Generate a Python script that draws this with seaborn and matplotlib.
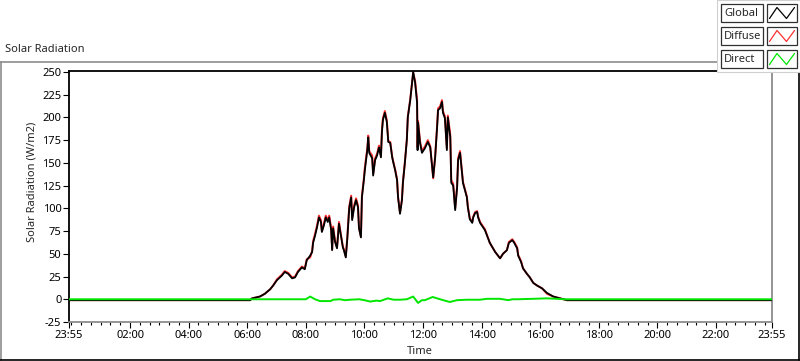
import matplotlib
matplotlib.use("Agg")
import matplotlib.pyplot as plt
from matplotlib.lines import Line2D
from matplotlib.patches import Rectangle
import seaborn as sns
import pandas as pd

# ---------------- data (minutes since midnight) ----------------
time_min = [-5, 366, 370, 386, 396, 407, 413, 421, 431, 437, 444, 452, 458, 464, 472, 478,
            482, 489, 493, 495, 499, 503, 507, 511, 513, 517, 521, 525, 528, 532, 534, 536,
            540, 544, 548, 552, 556, 558, 562, 565, 569, 573, 575, 579, 583, 587, 589, 593,
            595, 599, 601, 606, 608, 610, 616, 618, 622, 626, 630, 634, 636, 638, 642, 646,
            649, 653, 657, 659, 663, 667, 669, 673, 677, 679, 683, 687, 689, 694, 700, 704,
            708, 709, 710, 714, 718, 724, 730, 735, 739, 741, 745, 749, 751, 755, 759, 761,
            765, 769, 771, 776, 778, 782, 786, 790, 792, 796, 800, 802, 806, 810, 812, 816,
            821, 823, 827, 831, 833, 837, 847, 857, 868, 878, 884, 892, 896, 903, 907, 913,
            915, 921, 925, 933, 939, 946, 954, 964, 974, 987, 1001, 1015, 1435]

global_rad = [-1, -1, 1, 3, 6, 11, 15, 21, 26, 30, 28, 23, 24, 30, 35, 33,
              43, 48, 52, 62, 70, 79, 90, 85, 74, 81, 90, 85, 90, 76, 54, 78,
              63, 56, 83, 70, 57, 54, 46, 66, 100, 112, 87, 101, 109, 101, 78, 68,
              112, 131, 142, 164, 178, 161, 155, 136, 153, 158, 167, 156, 184, 197, 205, 195,
              173, 172, 156, 151, 142, 131, 112, 94, 109, 128, 150, 175, 200, 219, 250, 238,
              216, 164, 194, 172, 161, 166, 173, 167, 145, 134, 156, 189, 208, 210, 217, 205,
              199, 164, 200, 178, 128, 125, 98, 123, 153, 161, 139, 128, 120, 112, 101, 88,
              84, 90, 95, 96, 90, 84, 76, 62, 52, 45, 50, 54, 62, 65, 62, 56,
              48, 41, 34, 28, 24, 18, 15, 12, 7, 3, 1, -1, -1]

diffuse_rad = [-1, -1, 1, 3, 6, 11, 15, 22, 27, 31, 29, 24, 25, 31, 36, 34,
               44, 46, 53, 64, 72, 81, 92, 87, 75, 83, 92, 87, 92, 78, 55, 80,
               64, 57, 85, 71, 58, 55, 47, 68, 102, 114, 89, 103, 111, 103, 79, 69,
               114, 133, 145, 166, 180, 163, 158, 138, 155, 160, 169, 158, 186, 199, 207, 197,
               174, 173, 157, 152, 143, 132, 113, 95, 110, 129, 151, 176, 201, 220, 249, 240,
               219, 167, 196, 174, 163, 168, 175, 168, 144, 133, 157, 191, 210, 212, 219, 207,
               201, 166, 202, 181, 131, 127, 100, 125, 155, 163, 141, 129, 121, 113, 102, 89,
               85, 91, 96, 97, 91, 85, 77, 62, 52, 45, 50, 54, 63, 66, 63, 57,
               49, 42, 34, 28, 24, 18, 15, 12, 6, 3, 1, -1, -1]

direct_time = [-5, 366, 480, 489, 499, 509, 531, 536, 550, 560, 571, 590, 600, 612, 625, 632,
               648, 660, 673, 687, 700, 710, 718, 724, 740, 755, 765, 775, 790, 810, 837, 851,
               878, 895, 903, 913, 945, 974, 994, 1010, 1435]
direct_rad = [0, 0, 0, 3, 0, -2, -2, -0.5, 0, -1, -0.5, 0, -1, -2.5, -1.5, -2,
              1, -0.5, -0.5, 0, 3, -4, -1, -1, 2.5, 0, -1.5, -3, -1, -0.5, -0.5, 0.5,
              0.5, -1, 0, 0, 0.5, 1, 0.5, 0, 0]

series_names = ["Global", "Diffuse", "Direct"]
series_colors = ["#000000", "#ff3030", "#00e600"]

major_ticks = [-5, 120, 240, 360, 480, 600, 720, 840, 960, 1080, 1200, 1320, 1435]
major_labels = ["23:55", "02:00", "04:00", "06:00", "08:00", "10:00", "12:00",
                "14:00", "16:00", "18:00", "20:00", "22:00", "23:55"]
y_ticks = [-25, 0, 25, 50, 75, 100, 125, 150, 175, 200, 225, 250]

# ---------------- figure ----------------
sns.set_style("white")
plt.rcParams["font.family"] = ["Noto Sans", "DejaVu Sans"]

W, H = 800, 361
fig = plt.figure(figsize=(W / 100, H / 100), dpi=100)
fig.patch.set_facecolor("white")


def fx(px):
    return px / W


def fy(py):
    return 1 - py / H


ax = fig.add_axes([fx(69), fy(322), fx(772) - fx(69), fy(71) - fy(322)])

df_gd = pd.DataFrame({"Time": time_min, "Global": global_rad, "Diffuse": diffuse_rad})
df_dir = pd.DataFrame({"Time": direct_time, "Direct": direct_rad})

sns.lineplot(data=df_gd, x="Time", y="Diffuse", color=series_colors[1], lw=1.4,
             ax=ax, legend=False, zorder=2, estimator=None, sort=False)
sns.lineplot(data=df_gd, x="Time", y="Global", color=series_colors[0], lw=1.3,
             ax=ax, legend=False, zorder=3, estimator=None, sort=False)
sns.lineplot(data=df_dir, x="Time", y="Direct", color=series_colors[2], lw=1.4,
             ax=ax, legend=False, zorder=4, estimator=None, sort=False)

ax.set_xlim(-5, 1435)
ax.set_ylim(-25, 251)
ax.set_xticks(major_ticks)
ax.set_xticklabels(major_labels)
ax.set_xticks(list(range(0, 1435, 20)), minor=True)
ax.set_yticks(y_ticks)
ax.set_yticklabels([str(v) for v in y_ticks])

ax.tick_params(axis="x", which="major", direction="out", length=4.5, width=0.8,
               colors="black", labelsize=8, pad=1.5, bottom=True)
ax.tick_params(axis="x", which="minor", direction="out", length=2.2, width=0.8,
               colors="black", bottom=True)
ax.tick_params(axis="y", which="major", direction="out", length=4, width=0.8,
               colors="black", labelsize=8, pad=1.5, left=True)

for side, col in [("left", "black"), ("top", "black"), ("right", "#8c8c8c"), ("bottom", "#8c8c8c")]:
    ax.spines[side].set_visible(True)
    ax.spines[side].set_color(col)
    ax.spines[side].set_linewidth(1.3)

ax.set_xlabel("Time", fontsize=8)
ax.set_ylabel("Solar Radiation (W/m2)", fontsize=8)
ax.xaxis.set_label_coords((420 - 69) / 703, (322 - 346) / 251)
ax.yaxis.set_label_coords((38 - 69) / 703, (322 - 182) / 251)
ax.grid(False)

# ---------------- outer frame & title ----------------
fig.add_artist(Line2D([fx(0), fx(718)], [fy(61.5), fy(61.5)], color="#8c8c8c", lw=1.2))
fig.add_artist(Line2D([fx(1), fx(1)], [fy(61.5), fy(359.5)], color="#8c8c8c", lw=1.2))
fig.add_artist(Line2D([fx(0), fx(800)], [fy(359.5), fy(359.5)], color="black", lw=1.2))
fig.add_artist(Line2D([fx(798.5), fx(798.5)], [fy(70), fy(360)], color="black", lw=1.2))
fig.text(fx(5), fy(50), "Solar Radiation", fontsize=8, ha="left", va="center")

# ---------------- legend (LabVIEW style) ----------------
fig.add_artist(Rectangle((fx(717), fy(72)), fx(800) - fx(717), fy(0) - fy(72),
                         transform=fig.transFigure, facecolor="white",
                         edgecolor="#d0d0d0", lw=0.8, zorder=5))
row_tops = [4, 27, 50]
for name, col, top in zip(series_names, series_colors, row_tops):
    bot = top + 18
    fig.add_artist(Rectangle((fx(721), fy(bot)), fx(763) - fx(721), fy(top) - fy(bot),
                             transform=fig.transFigure, facecolor="white",
                             edgecolor="#303030", lw=0.9, zorder=6))
    fig.text(fx(724), fy((top + bot) / 2 + 0.5), name, fontsize=8, ha="left",
             va="center", zorder=7)
    fig.add_artist(Rectangle((fx(767), fy(bot)), fx(797) - fx(767), fy(top) - fy(bot),
                             transform=fig.transFigure, facecolor="white",
                             edgecolor="#303030", lw=0.9, zorder=6))
    zx = [fx(769.5), fx(777), fx(786.5), fx(794.5)]
    zy = [fy(bot - 3.5), fy(top + 3.5), fy(bot - 3.5), fy(top + 3.5)]
    fig.add_artist(Line2D(zx, zy, color=col, lw=0.9, zorder=7))

fig.savefig("out.png", dpi=100, facecolor="white")
